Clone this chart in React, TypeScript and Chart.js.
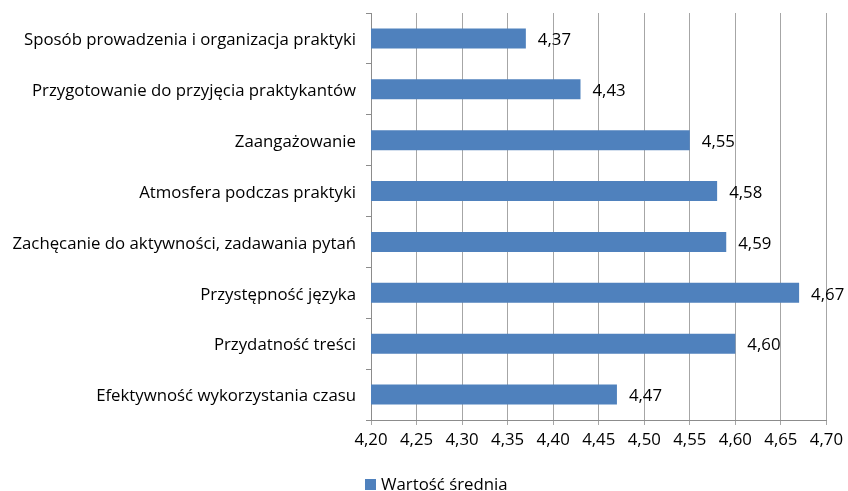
import React, { useEffect, useRef } from "react";
import { Chart, registerables } from "chart.js";

Chart.register(...registerables);

const categories = [
  "Sposób prowadzenia i organizacja praktyki",
  "Przygotowanie do przyjęcia praktykantów",
  "Zaangażowanie",
  "Atmosfera podczas praktyki",
  "Zachęcanie do aktywności, zadawania pytań",
  "Przystępność języka",
  "Przydatność treści",
  "Efektywność wykorzystania czasu",
];
const seriesName = "Wartość średnia";
const values = [4.37, 4.43, 4.55, 4.58, 4.59, 4.67, 4.6, 4.47];
const xMin = 4.2;
const xMax = 4.7;
const xStep = 0.05;

const FONT = "'Open Sans'";
const FS = 16.8;
const BAR_COLOR = "#4F81BD";

const fmt = (v: number) => v.toFixed(2).replace(".", ",");

const valueLabels = {
  id: "valueLabels",
  afterDatasetsDraw(chart: any) {
    const ctx = chart.ctx;
    const meta = chart.getDatasetMeta(0);
    ctx.save();
    ctx.font = `${FS}px ${FONT}`;
    ctx.fillStyle = "#000";
    ctx.textAlign = "left";
    ctx.textBaseline = "middle";
    meta.data.forEach((bar: any, i: number) => {
      ctx.fillText(fmt(values[i]), bar.x + 12, bar.y + 2);
    });
    ctx.restore();
  },
};

const bottomLegend = {
  id: "bottomLegend",
  afterDraw(chart: any) {
    const ctx = chart.ctx;
    ctx.save();
    ctx.fillStyle = BAR_COLOR;
    ctx.fillRect(365, 479, 11, 11);
    ctx.font = `${FS}px ${FONT}`;
    ctx.fillStyle = "#000";
    ctx.textAlign = "left";
    ctx.textBaseline = "middle";
    ctx.fillText(seriesName, 381, 485);
    ctx.restore();
  },
};

export default function App() {
  const ref = useRef<HTMLCanvasElement>(null);
  useEffect(() => {
    if (!ref.current) return;
    const chart = new Chart(ref.current, {
      type: "bar",
      data: {
        labels: categories,
        datasets: [
          {
            label: seriesName,
            data: values,
            backgroundColor: BAR_COLOR,
            borderWidth: 0,
            barPercentage: 0.786,
            categoryPercentage: 0.5,
          },
        ],
      },
      options: {
        indexAxis: "y",
        animation: false,
        responsive: false,
        maintainAspectRatio: false,
        layout: { padding: { left: 0, right: 20, top: 13, bottom: 0 } },
        plugins: {
          legend: { display: false },
          tooltip: { enabled: false },
        },
        scales: {
          x: {
            min: xMin,
            max: xMax,
            ticks: {
              stepSize: xStep,
              color: "#000",
              font: { family: FONT, size: FS },
              padding: 5,
              callback: (v: any) => fmt(Number(v)),
            },
            grid: { color: "#A6A6A6", tickLength: 5, lineWidth: 1 },
            border: { color: "#8C8C8C", width: 1 },
            afterFit: (s: any) => {
              s.height = 71;
            },
          },
          y: {
            ticks: {
              color: "#000",
              font: { family: FONT, size: FS },
              padding: 10,
              labelOffset: 2,
            },
            grid: {
              drawOnChartArea: false,
              tickLength: 5,
              offset: true,
              color: "#8C8C8C",
            },
            border: { color: "#8C8C8C", width: 1 },
            afterFit: (s: any) => {
              s.width = 371;
              s.paddingTop = 0;
              s.paddingBottom = 0;
            },
          },
        },
      },
      plugins: [valueLabels, bottomLegend],
    });
    return () => chart.destroy();
  }, []);
  return (
    <div style={{ position: "fixed", left: 0, top: 0, width: 848, height: 491, background: "#fff" }}>
      <canvas ref={ref} width={848} height={491} />
    </div>
  );
}
